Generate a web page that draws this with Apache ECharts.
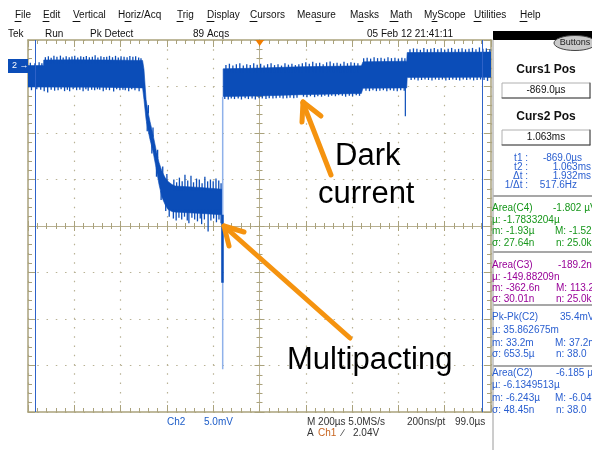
<!DOCTYPE html>
<html><head><meta charset="utf-8">
<script src="https://cdn.jsdelivr.net/npm/echarts@6/dist/echarts.min.js"></script>
<style>html,body{margin:0;padding:0;background:#fff}#c{width:592px;height:450px}</style>
</head><body><div id="c"></div>
<script>
// ---- data (time in µs, Ch2 in mV) ----
// body of the trace: upper and lower edges
const seg1UpperT = [-900,-833,-832,-700,-560,-405,-399,-390,-382,-373,-360,-347,-334,-321,-308,-295,-278,-265,-160,-61];
const seg1UpperV = [0.05,0.05,0.65,0.67,0.65,0.60,-0.37,-3.60,-4.89,-5.96,-7.36,-8.97,-10.37,-11.34,-11.98,-12.42,-12.74,-12.90,-13.05,-13.25];
const seg1LowerT = [-900,-600,-405,-399,-390,-382,-373,-360,-347,-334,-321,-308,-295,-278,-265,-150,-61];
const seg1LowerV = [-2.25,-2.27,-2.35,-3.60,-5.75,-6.82,-7.90,-9.19,-10.91,-12.74,-14.14,-14.89,-15.43,-15.64,-15.70,-15.85,-16.00];
const seg2UpperT = [-57,100,275,540,547,736,738,1100];
const seg2UpperV = [-0.30,-0.22,-0.08,0.02,0.45,0.52,1.45,1.50];
const seg2LowerT = [-57,100,275,540,547,736,738,1100];
const seg2LowerV = [-3.28,-3.22,-3.08,-2.95,-2.38,-2.35,-1.22,-1.20];
// noise spikes: groups of [level inside the trace mV, [[time µs, tip mV], ...]]
const spikeGroups = [
  [-0.3, [[-890,0.35],[-870,0.30],[-852,0.42],[-840,0.30]]],
  [0.3, [[-825,0.95],[-812,1.05],[-800,0.90],[-788,1.10],[-775,1.00],[-760,1.12],[-748,0.92],[-735,1.05],[-722,0.95],[-710,1.02],[-698,1.10],[-685,0.92],[-672,1.05],[-660,0.98],[-648,1.08],[-635,0.95],[-622,1.00],[-610,1.15],[-598,0.92],[-585,1.05],[-572,0.98],[-560,1.00],[-548,1.10],[-535,0.95],[-522,1.10],[-510,0.92],[-498,1.05],[-485,1.00],[-472,0.95],[-460,1.08],[-447,1.00],[-435,1.05],[-422,0.92],[-412,0.85]]],
  [-1.9, [[-885,-2.60],[-862,-2.50],[-845,-2.55],[-830,-2.70],[-815,-2.85],[-800,-2.55],[-785,-2.65],[-770,-2.60],[-757,-2.50],[-742,-2.70],[-730,-2.55],[-720,-2.70],[-705,-2.50],[-690,-2.60],[-676,-2.55],[-662,-2.70],[-650,-2.50],[-640,-2.65],[-625,-2.55],[-612,-2.60],[-600,-2.50],[-590,-2.55],[-575,-2.70],[-562,-2.55],[-548,-2.60],[-530,-2.75],[-517,-2.50],[-503,-2.60],[-490,-2.55],[-480,-2.60],[-465,-2.70],[-452,-2.50],[-438,-2.60],[-420,-2.70]]],
  [-5.1, [[-380,-4.2]]], [-7.6, [[-360,-6.6]]], [-9.9, [[-340,-9.0]]], [-11.7, [[-318,-10.8]]], [-12.5, [[-300,-11.6]]],
  [-6.0, [[-385,-7.0]]], [-8.4, [[-365,-9.4]]], [-10.8, [[-345,-11.9]]], [-13.4, [[-325,-14.4]]], [-14.7, [[-305,-15.6]]], [-15.2, [[-290,-16.2]]],
  [-13.4, [[-270,-12.2],[-258,-12.5],[-246,-12.0],[-234,-12.4],[-222,-11.7],[-210,-12.3],[-196,-11.8],[-185,-12.5],[-172,-12.1],[-160,-12.2],[-148,-12.6],[-136,-11.9],[-124,-12.4],[-112,-12.2],[-100,-12.4],[-88,-12.1],[-76,-12.3],[-66,-12.6]]],
  [-15.4, [[-272,-16.4],[-260,-16.6],[-248,-16.3],[-236,-16.5],[-224,-16.2],[-212,-16.6],[-205,-16.9],[-192,-16.3],[-180,-16.5],[-168,-16.7],[-156,-16.4],[-150,-17.0],[-138,-16.5],[-122,-17.8],[-110,-16.6],[-98,-16.4],[-86,-16.8],[-75,-16.5],[-66,-16.9]]],
  [-0.7, [[-45,0.10],[-30,0.25],[-15,0.05],[0,0.20],[15,0.30],[30,0.05],[45,0.20],[60,0.10],[75,0.30],[90,0.15],[105,0.25],[120,0.05],[135,0.20],[150,0.30],[165,0.10],[180,0.20],[195,0.05],[210,0.30],[225,0.15],[240,0.25],[255,0.10],[270,0.20],
          [285,0.30],[300,0.40],[315,0.25],[330,0.45],[345,0.30],[360,0.35],[375,0.20],[390,0.40],[405,0.50],[420,0.30],[435,0.35],[450,0.25],[465,0.45],[480,0.30],[495,0.40],[510,0.35],[525,0.30]]],
  [0.1, [[550,0.85],[565,0.90],[580,0.80],[595,0.95],[610,0.85],[625,0.90],[640,0.80],[655,0.95],[670,0.85],[685,0.90],[700,0.80],[715,0.90],[728,0.85]]],
  [1.1, [[750,1.80],[765,1.90],[780,1.85],[795,1.75],[810,1.95],[825,1.80],[840,1.85],[855,1.95],[870,1.80],[885,1.90],[900,1.75],[915,1.85],[930,1.95],[945,1.80],[960,1.85],[975,1.90],[990,1.80],[1005,1.85],[1020,1.95],[1035,1.80],[1050,2.00],[1065,1.85],[1080,1.90],[1095,1.80]]],
  [-2.6, [[-50,-3.55],[-35,-3.60],[-22,-3.50],[-8,-3.55],[8,-3.50],[22,-3.60],[38,-3.45],[52,-3.55],[68,-3.50],[82,-3.60],[98,-3.45],[112,-3.50],[128,-3.55],[142,-3.45],[158,-3.50],[172,-3.45],[188,-3.40],[202,-3.50],[218,-3.45],[232,-3.40],[248,-3.45],[262,-3.40],
          [290,-3.30],[305,-3.35],[320,-3.25],[338,-3.35],[352,-3.25],[368,-3.30],[382,-3.20],[398,-3.30],[412,-3.20],[428,-3.25],[442,-3.15],[458,-3.20],[472,-3.30],[488,-3.20],[502,-3.25],[518,-3.15],[532,-3.20]]],
  [-2.0, [[560,-2.65],[575,-2.70],[590,-2.60],[605,-2.70],[620,-2.65],[635,-2.60],[650,-2.70],[665,-2.60],[680,-2.65],[695,-2.70],[710,-2.60],[725,-2.65]]],
  [-0.9, [[755,-1.50],[770,-1.45],[785,-1.55],[800,-1.50],[815,-1.45],[830,-1.50],[845,-1.55],[860,-1.45],[875,-1.50],[890,-1.45],[905,-1.55],[920,-1.50],[935,-1.45],[950,-1.50],[965,-1.55],[980,-1.45],[995,-1.50],[1010,-1.45],[1025,-1.55],[1040,-1.50],[1055,-1.45],[1070,-1.50],[1085,-1.60]]]
];
// large vertical excursions: [time, from mV, to mV]
const jumpLight = [-59, -3.3, -32.6];
const spikeDark1 = [-60, -16.0, -23.3];
const spikeDark2 = [730, -1.4, -5.4];
const cursorTimes = [-869, 1063];
const xRange = [-900, 1100];
const yRange = [-37.2, 2.8];

// ---- build ----
const SIG = '#0b4db8';
const AX = '#aaa27c';
const FONT = '"Liberation Sans", Arial, sans-serif';

function edgeAxis(extra) {
  return Object.assign({
    type: 'value', gridIndex: 0,
    axisLine: { onZero: false, lineStyle: { color: AX, width: 1.5 } },
    axisTick: { show: true, inside: true, length: 7, lineStyle: { color: AX, width: 1 } },
    minorTick: { show: true, splitNumber: 5, length: 4, lineStyle: { color: AX, width: 1 } },
    axisLabel: { show: false },
    splitLine: { show: false }
  }, extra);
}
function centerAxis(extra) {
  return Object.assign({
    type: 'value', gridIndex: 1,
    axisTick: { show: true, inside: true, length: 5, lineStyle: { color: AX, width: 1 } },
    minorTick: { show: true, splitNumber: 5, length: 3, lineStyle: { color: AX, width: 1 } },
    axisLabel: { show: false },
    splitLine: { show: false }
  }, extra);
}
const dotted = { show: true, lineStyle: { color: '#b9b295', width: 1.2, type: [1.5, 7.76] } };

const gfx = [];
function txt(x, y, s, o) {
  gfx.push({ type: 'text', x: x, y: y, z: 50, silent: true,
    style: Object.assign({ text: s, fill: '#111', font: '10px ' + FONT, verticalAlign: 'middle', align: 'left' }, o || {}) });
}
function ln(x1, y1, x2, y2, stroke, w, z) {
  gfx.push({ type: 'line', z: z || 50, silent: true, shape: { x1, y1, x2, y2 }, style: { stroke, lineWidth: w || 1, lineCap: 'round' } });
}
function rect(x, y, w, h, fill, stroke, z) {
  gfx.push({ type: 'rect', z: z || 40, silent: true, shape: { x, y, width: w, height: h }, style: { fill, stroke: stroke || null, lineWidth: 1 } });
}

// menu bar
const menu = [['File',15,0,6],['Edit',43,0,6],['Vertical',73,0,7],['Horiz/Acq',118,7,6],['Trig',177,0,6],['Display',207,0,7],['Cursors',250,0,7],
  ['Measure',297,19,5],['Masks',350,8,5],['Math',390,0,8],['MyScope',424,8,5],['Utilities',474,0,7],['Help',520,0,7]];
menu.forEach(m => { txt(m[1], 15, m[0]); ln(m[1] + m[2], 21.5, m[1] + m[2] + m[3], 21.5, '#111', 1, 50); });
// status row
txt(8, 34, 'Tek'); txt(45, 34, 'Run'); txt(90, 34, 'Pk Detect'); txt(193, 34, '89 Acqs'); txt(367, 34, '05 Feb 12 21:41:11');
// trigger position marker
gfx.push({ type: 'polygon', z: 60, silent: true, shape: { points: [[255.5, 40], [264, 40], [259.7, 46]] }, style: { fill: '#f07d00' } });
// channel 2 ground marker
rect(8, 59, 20, 14, SIG, null, 45);
txt(12, 66, '2 \u2192', { fill: '#fff', font: '9px ' + FONT });

// right panel
rect(493, 31, 99, 9, '#000', null, 40);
ln(493, 40, 493, 450, '#9a9a9a', 1, 41);
gfx.push({ type: 'ellipse', z: 45, silent: true, shape: { cx: 575, cy: 43, rx: 21, ry: 7.5 }, style: { fill: '#c9c9c9', stroke: '#444', lineWidth: 1 } });
txt(575, 43, 'Buttons', { align: 'center', font: '9px ' + FONT, fill: '#222' });
txt(546, 70, 'Curs1 Pos', { align: 'center', font: 'bold 12px ' + FONT });
rect(502, 83, 88, 15, '#fff', '#b0b0b0', 42); ln(502, 98, 590, 98, '#444', 1, 43); ln(590, 83, 590, 98, '#444', 1, 43);
txt(546, 90.5, '-869.0\u00b5s', { align: 'center' });
txt(546, 117, 'Curs2 Pos', { align: 'center', font: 'bold 12px ' + FONT });
rect(502, 130, 88, 15, '#fff', '#b0b0b0', 42); ln(502, 145, 590, 145, '#444', 1, 43); ln(590, 130, 590, 145, '#444', 1, 43);
txt(546, 137.5, '1.063ms', { align: 'center' });
const PB = '#2a5fd0', PG = '#16961a', PP = '#980098';
[['t1 :', '-869.0\u00b5s', 158, 582], ['t2 :', '1.063ms', 167, 591], ['\u0394t :', '1.932ms', 176, 591], ['1/\u0394t :', '517.6Hz', 185, 577]].forEach(r => {
  txt(528, r[2], r[0], { align: 'right', fill: PB }); txt(r[3], r[2], r[1], { align: 'right', fill: PB });
});
[196, 252, 305, 366].forEach(y => ln(494, y, 592, y, '#8a8a8a', 1.5, 43));
const blocks = [
  [PG, [208, 220, 231, 243], ['Area(C4)', '-1.802 \u00b5V', 553], ['\u00b5: -1.7833204\u00b5'], ['m: -1.93\u00b5', 'M: -1.52', 555], ['\u03c3: 27.64n', 'n: 25.0k', 556]],
  [PP, [265, 277, 288, 299], ['Area(C3)', '-189.2nV', 558], ['\u00b5: -149.88209n'], ['m: -362.6n', 'M: 113.2', 556], ['\u03c3: 30.01n', 'n: 25.0k', 556]],
  [PB, [317, 330, 343, 354], ['Pk-Pk(C2)', '35.4mV', 560], ['\u00b5: 35.862675m'], ['m: 33.2m', 'M: 37.2m', 555], ['\u03c3: 653.5\u00b5', 'n: 38.0', 556]],
  [PB, [373, 385, 398, 410], ['Area(C2)', '-6.185 \u00b5V', 556], ['\u00b5: -6.1349513\u00b5'], ['m: -6.243\u00b5', 'M: -6.04', 555], ['\u03c3: 48.45n', 'n: 38.0', 556]]
];
blocks.forEach(b => {
  for (let i = 0; i < 4; i++) {
    const r = b[2 + i];
    txt(492, b[1][i], r[0], { fill: b[0] });
    if (r[1]) txt(r[2], b[1][i], r[1], { fill: b[0] });
  }
});

// bottom readouts
txt(167, 422, 'Ch2', { fill: '#1c5cc8' }); txt(204, 422, '5.0mV', { fill: '#1c5cc8' });
txt(307, 422, 'M 200\u00b5s 5.0MS/s', { fill: '#333' }); txt(407, 422, '200ns/pt', { fill: '#333' }); txt(455, 422, '99.0\u00b5s', { fill: '#333' });
txt(307, 433, 'A', { fill: '#333' }); txt(318, 433, 'Ch1', { fill: '#c8641e' }); txt(342, 433, '\u2215', { fill: '#333' }); txt(353, 433, '2.04V', { fill: '#333' });

// annotations
const OR = '#f5930f';
ln(331, 175, 303, 103, OR, 5, 70); ln(303, 102, 302, 122, OR, 5, 70); ln(303, 102, 321, 116, OR, 5, 70);
ln(350, 338, 225, 227, OR, 5, 70); ln(224, 226, 229, 246, OR, 5, 70); ln(224, 226, 244, 232, OR, 5, 70);
const BIG = '31px ' + FONT;
txt(335, 156, 'Dark', { font: BIG, fill: '#000' });
txt(318, 194, 'current', { font: BIG, fill: '#000' });
txt(287, 360, 'Multipacting', { font: BIG, fill: '#000' });

// trace body: one filled polygon per segment, upper edge then lower edge
function bandData(ut, uv, lt, lv) {
  return ut.map((t, i) => [t, uv[i], 0]).concat(lt.map((t, i) => [t, lv[i], 1]));
}
function renderBand(params, api) {
  if (params.dataIndexInside !== 0) return null;
  const up = [], lo = [];
  for (let i = 0; i < params.dataInsideLength; i++) {
    const p = api.coord([api.value(0, i), api.value(1, i)]);
    (api.value(2, i) === 0 ? up : lo).push(p);
  }
  return { type: 'polygon', shape: { points: up.concat(lo.reverse()) }, style: { fill: SIG, stroke: SIG, lineWidth: 0.6 } };
}
function band(ut, uv, lt, lv) {
  return { type: 'custom', xAxisIndex: 0, yAxisIndex: 0, silent: true, clip: true, z: 3,
    renderItem: renderBand, data: bandData(ut, uv, lt, lv), encode: { x: 0, y: 1 } };
}
// noise spikes: [time, level inside trace, tip]
const spikeData = [];
spikeGroups.forEach(g => g[1].forEach(p => spikeData.push([p[0], g[0], p[1]])));
function renderSpike(params, api) {
  const a = api.coord([api.value(0), api.value(1)]);
  const b = api.coord([api.value(0), api.value(2)]);
  return { type: 'line', shape: { x1: a[0], y1: a[1], x2: b[0], y2: b[1] }, style: { stroke: SIG, lineWidth: 1.3 } };
}
function vline(v, color, w) {
  return { type: 'line', xAxisIndex: 0, yAxisIndex: 0, data: [[v[0], v[1]], [v[0], v[2]]], symbol: 'none', silent: true,
    lineStyle: { color, width: w }, z: 4 };
}

const cursorSeries = vline(spikeDark2, SIG, 1.2);
cursorSeries.markLine = { silent: true, symbol: ['none', 'none'], label: { show: false },
  lineStyle: { color: '#2e62c8', width: 1, type: 'solid' }, data: cursorTimes.map(t => ({ xAxis: t })) };

const chart = echarts.init(document.getElementById('c'), null, { renderer: 'canvas' });
chart.setOption({
  animation: false,
  backgroundColor: '#fff',
  grid: [
    { left: 28, top: 40, width: 463, height: 372 },
    { left: 28, top: 40, width: 463, height: 372 }
  ],
  xAxis: [
    edgeAxis({ position: 'bottom', min: xRange[0], max: xRange[1], interval: 200, splitLine: dotted }),
    edgeAxis({ position: 'top', min: xRange[0], max: xRange[1], interval: 200 }),
    centerAxis({ position: 'bottom', min: -5, max: 5, interval: 1, axisLine: { onZero: true, onZeroAxisIndex: 2, lineStyle: { color: '#b8b092', width: 1 } } }),
    centerAxis({ position: 'top', min: -5, max: 5, interval: 1, axisLine: { onZero: true, onZeroAxisIndex: 2, lineStyle: { color: '#b8b092', width: 1 } } })
  ],
  yAxis: [
    edgeAxis({ position: 'left', min: yRange[0], max: yRange[1], interval: 5, splitLine: dotted }),
    edgeAxis({ position: 'right', min: yRange[0], max: yRange[1], interval: 5 }),
    centerAxis({ position: 'left', min: -4, max: 4, interval: 1, axisLine: { onZero: true, onZeroAxisIndex: 2, lineStyle: { color: '#b8b092', width: 1 } } }),
    centerAxis({ position: 'right', min: -4, max: 4, interval: 1, axisLine: { onZero: true, onZeroAxisIndex: 2, lineStyle: { color: '#b8b092', width: 1 } } })
  ],
  series: [
    vline(jumpLight, '#8fb1ea', 1.5),
    band(seg1UpperT, seg1UpperV, seg1LowerT, seg1LowerV),
    band(seg2UpperT, seg2UpperV, seg2LowerT, seg2LowerV),
    { type: 'custom', xAxisIndex: 0, yAxisIndex: 0, silent: true, clip: true, z: 3, renderItem: renderSpike, data: spikeData, encode: { x: 0, y: [1, 2] } },
    vline(spikeDark1, SIG, 2.5),
    cursorSeries
  ],
  graphic: { elements: gfx }
});
</script></body></html>
